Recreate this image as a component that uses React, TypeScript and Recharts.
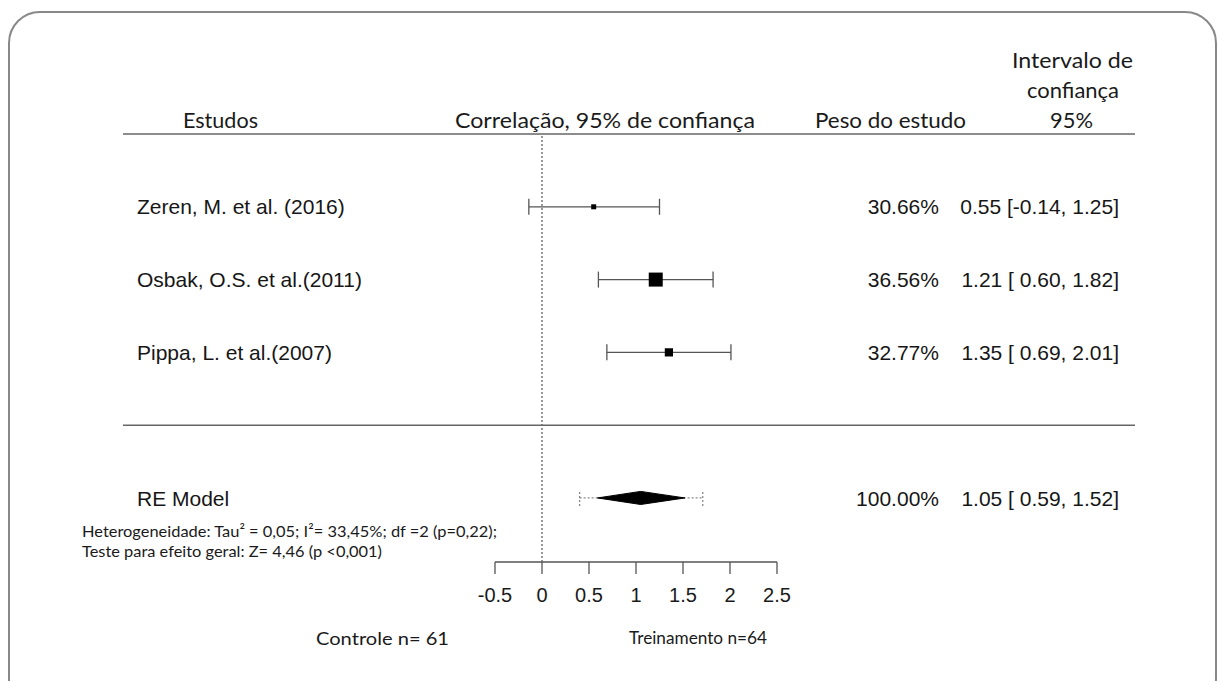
import React from 'react';
import { ComposedChart, Scatter, XAxis, YAxis, ErrorBar, ReferenceLine } from 'recharts';

// ---------- data ----------
const studyNames = ['Zeren, M. et al. (2016)', 'Osbak, O.S. et al.(2011)', 'Pippa, L. et al.(2007)'];
const estimates = [0.55, 1.21, 1.35];
const lowerCI = [-0.14, 0.6, 0.69];
const upperCI = [1.25, 1.82, 2.01];
const weights = [30.66, 36.56, 32.77];

const modelName = 'RE Model';
const modelEstimate = 1.05;
const modelLower = 0.59;
const modelUpper = 1.52;
const predLower = 0.4;
const predUpper = 1.71;
const modelWeight = 100;

const xTicks = [-0.5, 0, 0.5, 1, 1.5, 2, 2.5];

const headerStudies = 'Estudos';
const headerEffect = 'Correlação, 95% de confiança';
const headerWeight = 'Peso do estudo';
const headerCI = ['Intervalo de', 'confiança', '95%'];
const heterogeneityText = 'Heterogeneidade: Tau² = 0,05; I²= 33,45%; df =2 (p=0,22);';
const overallText = 'Teste para efeito geral: Z= 4,46 (p <0,001)';
const controlLabel = 'Controle n= 61';
const trainingLabel = 'Treinamento n=64';

// ---------- layout ----------
const W = 1219;
const H = 681;
const PLOT_LEFT = 495;
const PLOT_RIGHT = 777;
const PLOT_TOP = 134;
const PLOT_BOTTOM = 562;
const X_AXIS_H = 60;
const X_DOMAIN: [number, number] = [-0.5, 2.5];
const Y_DOMAIN: [number, number] = [-1.88, 4];
const PX_PER_UNIT = (PLOT_RIGHT - PLOT_LEFT) / (X_DOMAIN[1] - X_DOMAIN[0]);
const pxToX = (px: number) => X_DOMAIN[0] + (px - PLOT_LEFT) / PX_PER_UNIT;
const LINE_X0 = pxToX(123);
const LINE_X1 = pxToX(1135);
const HEADER_ROW = 4;
const SEP_ROW = 0;
const MODEL_ROW = -1;
const DIAMOND_HALF = 0.09;

const NAME_X = 137;
const WEIGHT_RIGHT = 939;
const CI_RIGHT = 1119;
const TEXT_FONT = "'Liberation Sans', Arial, sans-serif";
const NOTE_FONT = "Lato, 'Open Sans', sans-serif";

const fmt = (v: number) => (v < 0 ? v.toFixed(2) : ' ' + v.toFixed(2));
const ciText = (e: number, lo: number, hi: number) => `${e.toFixed(2)} [${fmt(lo)}, ${hi.toFixed(2)}]`;

const minW = Math.min(...weights);
const maxW = Math.max(...weights);
const boxSize = (w: number) => 5 + ((w - minW) / (maxW - minW)) * 9;

const studyData = studyNames.map((name, i) => ({
  name,
  x: estimates[i],
  y: studyNames.length - i,
  lo: lowerCI[i],
  hi: upperCI[i],
  weight: weights[i],
  errX: [estimates[i] - lowerCI[i], upperCI[i] - estimates[i]],
}));

const modelData = [
  {
    name: modelName,
    x: modelEstimate,
    y: MODEL_ROW,
    lo: modelLower,
    hi: modelUpper,
    weight: modelWeight,
    errX: [modelEstimate - predLower, predUpper - modelEstimate],
  },
];

const diamondData = [
  { x: modelLower, y: MODEL_ROW },
  { x: modelEstimate, y: MODEL_ROW + DIAMOND_HALF },
  { x: modelUpper, y: MODEL_ROW },
  { x: modelEstimate, y: MODEL_ROW - DIAMOND_HALF },
];

const RowTexts = ({ cy, p }: { cy: number; p: any }) => (
  <g fontFamily={TEXT_FONT} fontSize={21} fill="#161616">
    <text x={NAME_X} y={cy} dy="0.36em">{p.name}</text>
    <text x={WEIGHT_RIGHT} y={cy} dy="0.36em" textAnchor="end">{p.weight.toFixed(2)}%</text>
    <text x={CI_RIGHT} y={cy} dy="0.36em" textAnchor="end" style={{ whiteSpace: 'pre' }}>
      {ciText(p.x, p.lo, p.hi)}
    </text>
  </g>
);

const StudyShape = (props: any) => {
  const { cx, cy, payload } = props;
  const s = boxSize(payload.weight);
  return (
    <g>
      <rect x={cx - s / 2} y={cy - s / 2} width={s} height={s} fill="#000" />
      <RowTexts cy={cy} p={payload} />
    </g>
  );
};

const ModelShape = (props: any) => {
  const { cy, payload } = props;
  return <RowTexts cy={cy} p={payload} />;
};

const DiamondLine = (props: any) => {
  const pts = (props.points || []).map((pt: any) => `${pt.x},${pt.y}`).join(' ');
  return <polygon points={pts} fill="#000" stroke="#000" strokeWidth={1} />;
};

const EmptyShape = () => <g />;

const SvgText = ({ x, y, w, size, children, anchor }: any) => (
  <text
    x={x}
    y={y}
    dy="0.35em"
    fontFamily={NOTE_FONT}
    fontSize={size}
    fill="#1a1a1a"
    textLength={w}
    lengthAdjust="spacingAndGlyphs"
    textAnchor={anchor || 'start'}
  >
    {children}
  </text>
);

export default function App() {
  return (
    <div style={{ position: 'fixed', left: 0, top: 0, width: W, height: H, overflow: 'hidden', background: '#fff' }}>
      <div
        style={{
          position: 'absolute',
          left: 8,
          top: 11,
          width: 1209,
          height: 700,
          boxSizing: 'border-box',
          border: '2.5px solid #888',
          borderRadius: 32,
        }}
      />
      <div style={{ position: 'absolute', left: 0, top: 0 }}>
        <ComposedChart
          width={W}
          height={H}
          margin={{ top: PLOT_TOP, right: W - PLOT_RIGHT, bottom: H - PLOT_BOTTOM - X_AXIS_H, left: PLOT_LEFT }}
        >
          <XAxis
            type="number"
            dataKey="x"
            domain={X_DOMAIN}
            ticks={xTicks}
            height={X_AXIS_H}
            tickSize={12}
            tickMargin={14}
            axisLine={{ stroke: '#555', strokeWidth: 1.3 }}
            tickLine={{ stroke: '#555', strokeWidth: 1.3 }}
            tick={{ fontSize: 20, fill: '#1a1a1a', fontFamily: TEXT_FONT }}
            interval={0}
          />
          <YAxis type="number" dataKey="y" domain={Y_DOMAIN} hide />
          <ReferenceLine x={0} stroke="#555" strokeDasharray="2 2" strokeWidth={1.2} />
          <ReferenceLine
            segment={[{ x: LINE_X0, y: HEADER_ROW }, { x: LINE_X1, y: HEADER_ROW }]}
            ifOverflow="visible"
            stroke="#666"
            strokeWidth={1.5}
          />
          <ReferenceLine
            segment={[{ x: LINE_X0, y: SEP_ROW }, { x: LINE_X1, y: SEP_ROW }]}
            ifOverflow="visible"
            stroke="#666"
            strokeWidth={1.5}
          />
          <Scatter data={studyData} shape={StudyShape} isAnimationActive={false}>
            <ErrorBar dataKey="errX" direction="x" width={8} stroke="#555" strokeWidth={1.3} isAnimationActive={false} />
          </Scatter>
          <Scatter data={modelData} shape={ModelShape} isAnimationActive={false}>
            <ErrorBar
              dataKey="errX"
              direction="x"
              width={8}
              stroke="#888"
              strokeWidth={1.3}
              strokeDasharray="2 2"
              isAnimationActive={false}
            />
          </Scatter>
          <Scatter
            data={diamondData}
            shape={EmptyShape}
            line={DiamondLine}
            lineType="joint"
            isAnimationActive={false}
          />
        </ComposedChart>
      </div>
      <svg width={W} height={H} style={{ position: 'absolute', left: 0, top: 0, pointerEvents: 'none' }}>
        <SvgText x={183} y={121} w={75} size={21}>{headerStudies}</SvgText>
        <SvgText x={455} y={121} w={300} size={21}>{headerEffect}</SvgText>
        <SvgText x={815} y={121} w={151} size={21}>{headerWeight}</SvgText>
        <SvgText x={1012} y={61} w={121} size={21}>{headerCI[0]}</SvgText>
        <SvgText x={1027} y={91} w={92} size={21}>{headerCI[1]}</SvgText>
        <SvgText x={1050} y={121} w={43} size={21}>{headerCI[2]}</SvgText>
        <SvgText x={82} y={531} w={415} size={16}>{heterogeneityText}</SvgText>
        <SvgText x={82} y={551} w={300} size={16}>{overallText}</SvgText>
        <SvgText x={316} y={639} w={133} size={17}>{controlLabel}</SvgText>
        <SvgText x={629} y={638} w={138} size={17}>{trainingLabel}</SvgText>
      </svg>
    </div>
  );
}
